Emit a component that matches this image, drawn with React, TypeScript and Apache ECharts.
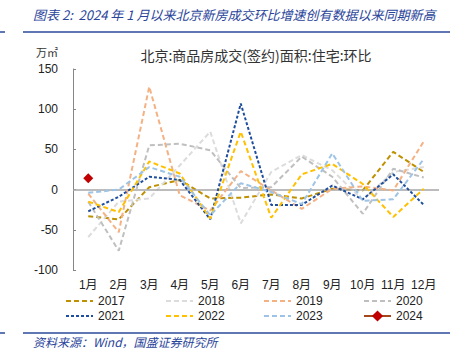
import React, { useEffect, useRef } from "react";
import * as echarts from "echarts";

const months = ["1月", "2月", "3月", "4月", "5月", "6月", "7月", "8月", "9月", "10月", "11月", "12月"];
const years = ["2017", "2018", "2019", "2020", "2021", "2022", "2023", "2024"];

const v2017 = [-33, -37, 3, 12, -11, -10, -6, -11, 1, -1, 47, 22];
const v2018 = [-59, -15, -11, 30, 72, -42, 22, 43, 24, -13, 22, 28];
const v2019 = [-5, -53, 128, -7, -26, 23, -1, -24, 1, 4, -1, 60];
const v2020 = [-15, -76, 55, 57, 49, 2, 3, 41, 16, -30, 26, 15];
const v2021 = [-27, -9, 16, 12, -37, 107, -19, -19, 5, -12, 19, -19];
const v2022 = [-15, -28, 35, 20, -36, 72, -35, 19, 32, 7, -34, 1];
const v2023 = [-4, 0, 28, 16, -32, 8, -3, -18, 45, -14, -12, 38];
const v2024: (number | null)[] = [14, null, null, null, null, null, null, null, null, null, null, null];

const yTicks = { min: -100, max: 150, interval: 50 };

const colors = ["#BF9000", "#DCDCDC", "#F4B183", "#BFBFBF", "#1F4E9E", "#FFC000", "#9DC3E6", "#A5471A"];
const dashes = [[5, 3], [5, 3], [5, 3], [5, 3], [3, 2], [5, 3], [5, 3], [5, 3]];

const FONT = "'Liberation Sans', 'Noto Sans CJK SC', sans-serif";
const CJK = "'Noto Sans CJK SC', 'Liberation Sans', sans-serif";

export default function App() {
  const ref = useRef<HTMLDivElement>(null);
  useEffect(() => {
    if (!ref.current) return;
    const chart = echarts.init(ref.current, undefined, { renderer: "svg" });
    const values = [v2017, v2018, v2019, v2020, v2021, v2022, v2023];
    const series: any[] = [
      {
        type: "line",
        name: "_zero",
        data: [],
        silent: true,
        markLine: {
          silent: true,
          symbol: "none",
          label: { show: false },
          lineStyle: { color: "#A6A6A6", width: 1.5, type: "solid" },
          data: [{ yAxis: 0 }],
        },
      },
    ];
    values.forEach((d, i) => {
      series.push({
        type: "line",
        name: years[i],
        data: d,
        symbol: "none",
        showSymbol: false,
        color: colors[i],
        lineStyle: { color: colors[i], width: 2, type: dashes[i] },
        z: 3 + i,
      });
    });
    series.push({
      type: "line",
      name: "2024",
      data: v2024,
      symbol: "diamond",
      symbolSize: 10,
      showSymbol: true,
      color: "#C00000",
      itemStyle: { color: "#C00000" },
      lineStyle: { color: colors[7], width: 3, type: "solid" },
      z: 20,
    });

    const legendLeft = [65, 165, 263, 363];
    const legends = years.map((y, i) => {
      const l: any = {
        data: [y],
        left: legendLeft[i % 4],
        top: i < 4 ? 295 : 310,
        itemWidth: 27,
        itemHeight: 14,
        padding: 0,
        textStyle: { fontSize: 12, color: "#222", fontFamily: FONT },
        selectedMode: false,
      };
      if (i < 7) {
        l.itemStyle = { color: "rgba(0,0,0,0)", borderWidth: 0, opacity: 0 };
      } else {
        l.itemStyle = { color: "#C00000" };
      }
      return l;
    });

    chart.setOption({
      animation: false,
      grid: { left: 73, right: 23, top: 69, bottom: 84 },
      title: {
        text: "北京:商品房成交(签约)面积:住宅:环比",
        left: 251,
        textAlign: "center",
        top: 43,
        textStyle: { fontSize: 14, fontWeight: "normal", color: "#333", fontFamily: CJK },
      },
      legend: legends,
      xAxis: {
        type: "category",
        data: months,
        boundaryGap: true,
        axisLine: { show: false, onZero: false },
        axisTick: { show: false },
        axisLabel: { fontSize: 12, color: "#222", margin: 9, fontFamily: FONT, interval: 0 },
        splitLine: { show: false },
      },
      yAxis: {
        type: "value",
        min: yTicks.min,
        max: yTicks.max,
        interval: yTicks.interval,
        axisLine: { show: true, lineStyle: { color: "#868686", width: 1 } },
        axisTick: { show: true, inside: true, length: 3, lineStyle: { color: "#868686" } },
        axisLabel: { fontSize: 12, color: "#222", margin: 15, fontFamily: FONT },
        splitLine: { show: false },
      },
      graphic: [
        {
          type: "text",
          left: 33,
          top: 8,
          style: {
            text: "图表 2:  2024 年 1 月以来北京新房成交环比增速创有数据以来同期新高",
            fill: "#2A449A",
            font: "italic 13px 'Noto Sans CJK SC', 'Liberation Sans', sans-serif",
          },
        },
        { type: "line", shape: { x1: 23, y1: 32, x2: 450, y2: 32 }, style: { stroke: "#2A4B9B", lineWidth: 1.5 } },
        { type: "line", shape: { x1: 0, y1: 32, x2: 5, y2: 32 }, style: { stroke: "#2A4B9B", lineWidth: 1.5 } },
        { type: "line", shape: { x1: 23, y1: 333, x2: 450, y2: 333 }, style: { stroke: "#2A4B9B", lineWidth: 1.5 } },
        { type: "line", shape: { x1: 0, y1: 333, x2: 5, y2: 333 }, style: { stroke: "#2A4B9B", lineWidth: 1.5 } },
        {
          type: "text",
          left: 33,
          top: 335,
          style: {
            text: "资料来源：Wind，国盛证券研究所",
            fill: "#2A449A",
            font: "italic 12px 'Noto Sans CJK SC', 'Liberation Sans', sans-serif",
          },
        },
        {
          type: "text",
          left: 36,
          top: 46,
          style: {
            text: "万㎡",
            fill: "#333",
            font: "11px 'Noto Sans CJK SC', sans-serif",
          },
        },
      ],
      series,
    });
    return () => chart.dispose();
  }, []);
  return <div ref={ref} style={{ width: 462, height: 354, position: "absolute", left: 0, top: 0 }} />;
}
